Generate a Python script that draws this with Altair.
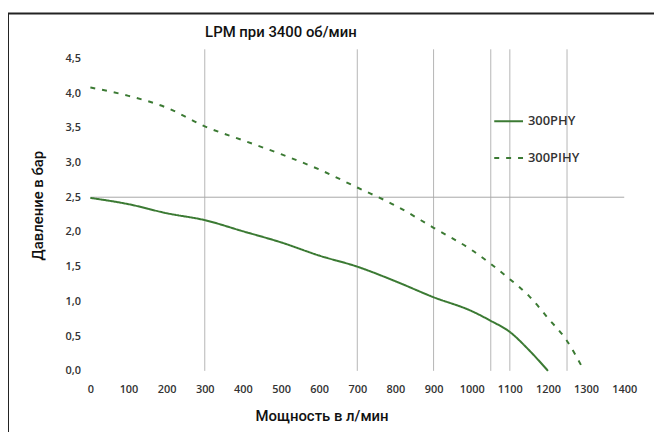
import altair as alt
import pandas as pd

# 300PHY (solid)
phy_x = [0, 100, 200, 300, 400, 500, 600, 700, 800, 900, 1000, 1050, 1100, 1150, 1200]
phy_y = [2.49, 2.40, 2.27, 2.17, 2.01, 1.85, 1.66, 1.50, 1.29, 1.06, 0.86, 0.72, 0.56, 0.30, 0.0]

# 300PIHY (dashed)
pihy_x = [0, 100, 200, 300, 400, 500, 600, 700, 800, 900, 1000, 1050, 1100, 1150, 1200, 1250, 1290]
pihy_y = [4.08, 3.96, 3.79, 3.52, 3.32, 3.12, 2.90, 2.64, 2.38, 2.06, 1.74, 1.54, 1.32, 1.08, 0.76, 0.43, 0.05]

series_names = ["300PHY", "300PIHY"]
vlines = [300, 700, 900, 1050, 1100, 1250]
hline = [2.5]
x_ticks = list(range(0, 1401, 100))
y_ticks = [0, 0.5, 1.0, 1.5, 2.0, 2.5, 3.0, 3.5, 4.0, 4.5]

df = pd.DataFrame(
    {"x": phy_x + pihy_x,
     "y": phy_y + pihy_y,
     "s": [series_names[0]] * len(phy_x) + [series_names[1]] * len(pihy_x)}
)
vdf = pd.DataFrame({"x": vlines, "y0": [0] * len(vlines), "y1": [4.63] * len(vlines)})
hdf = pd.DataFrame({"y": hline, "x0": [0], "x1": [1400]})

GREEN = "#3b7a33"
TICKFONT = "Open Sans"
NARROW = "Roboto"

xs = alt.Scale(domain=[0, 1400], nice=False)
ys = alt.Scale(domain=[0, 4.63], nice=False)

x_axis = alt.Axis(values=x_ticks, grid=False, domain=False, ticks=False, labelPadding=13,
                  labelOverlap=False, labelFlush=False, format="d",
                  labelFont=TICKFONT, labelFontSize=11, labelFontWeight=600, labelColor="#333",
                  title="Мощность в л/мин", titleFont=NARROW, titleFontSize=15, titleFontWeight=500,
                  titleColor="#111", titleX=233, titleY=38)
y_axis = alt.Axis(values=y_ticks, grid=False, domain=False, ticks=False, labelPadding=10,
                  labelOverlap=False,
                  labelFont=TICKFONT, labelFontSize=11, labelFontWeight=600, labelColor="#333",
                  labelExpr="replace(format(datum.value, '.1f'), '.', ',')",
                  title="Давление в бар", titleFont=NARROW, titleFontSize=15, titleFontWeight=500,
                  titleColor="#111", titleX=-45, titleY=157)

vrules = alt.Chart(vdf).mark_rule(color="#b5b5b5", strokeWidth=1).encode(
    x=alt.X("x:Q", scale=xs, axis=x_axis),
    y=alt.Y("y0:Q", scale=ys, axis=y_axis),
    y2="y1:Q",
)
hrule = alt.Chart(hdf).mark_rule(color="#a8a8a8", strokeWidth=1).encode(
    y=alt.Y("y:Q", scale=ys, axis=y_axis),
    x=alt.X("x0:Q", scale=xs, axis=x_axis),
    x2="x1:Q",
)

lines = alt.Chart(df).mark_line(color=GREEN, strokeWidth=2, interpolate="monotone").encode(
    x=alt.X("x:Q", scale=xs, axis=x_axis),
    y=alt.Y("y:Q", scale=ys, axis=y_axis),
    detail="s:N",
    strokeDash=alt.StrokeDash(
        "s:N",
        scale=alt.Scale(domain=series_names, range=[[1, 0], [5, 7]]),
        legend=alt.Legend(
            title=None, orient="none", legendX=406, legendY=57,
            symbolType="stroke", symbolSize=841, symbolStrokeColor=GREEN, symbolStrokeWidth=2,
            labelFont=TICKFONT, labelFontSize=13, labelFontWeight=600, labelColor="#333",
            labelOffset=4, rowPadding=14,
        ),
    ),
)

frame = alt.Chart(pd.DataFrame({"k": [0]})).mark_rule(color="#222", strokeWidth=2).encode(
    x=alt.value(-83), y=alt.value(-36), y2=alt.value(400)
)
frame_top = alt.Chart(pd.DataFrame({"k": [0]})).mark_rule(color="#222", strokeWidth=2).encode(
    x=alt.value(-83), x2=alt.value(600), y=alt.value(-36)
)

chart = alt.layer(frame, frame_top, vrules, hrule, lines).properties(
    width=538, height=324,
    padding={"left": 83, "top": 40, "right": 30, "bottom": 60},
    autosize=alt.AutoSizeParams(type="none"),
    title=alt.TitleParams("LPM при 3400 об/мин", font=NARROW, fontSize=15, fontWeight=500,
                          color="#111", anchor="middle", frame="group", dx=-77, offset=-28),
).configure_view(stroke=None)

chart.save("out.html", embed_options={"renderer": "svg", "actions": False})
